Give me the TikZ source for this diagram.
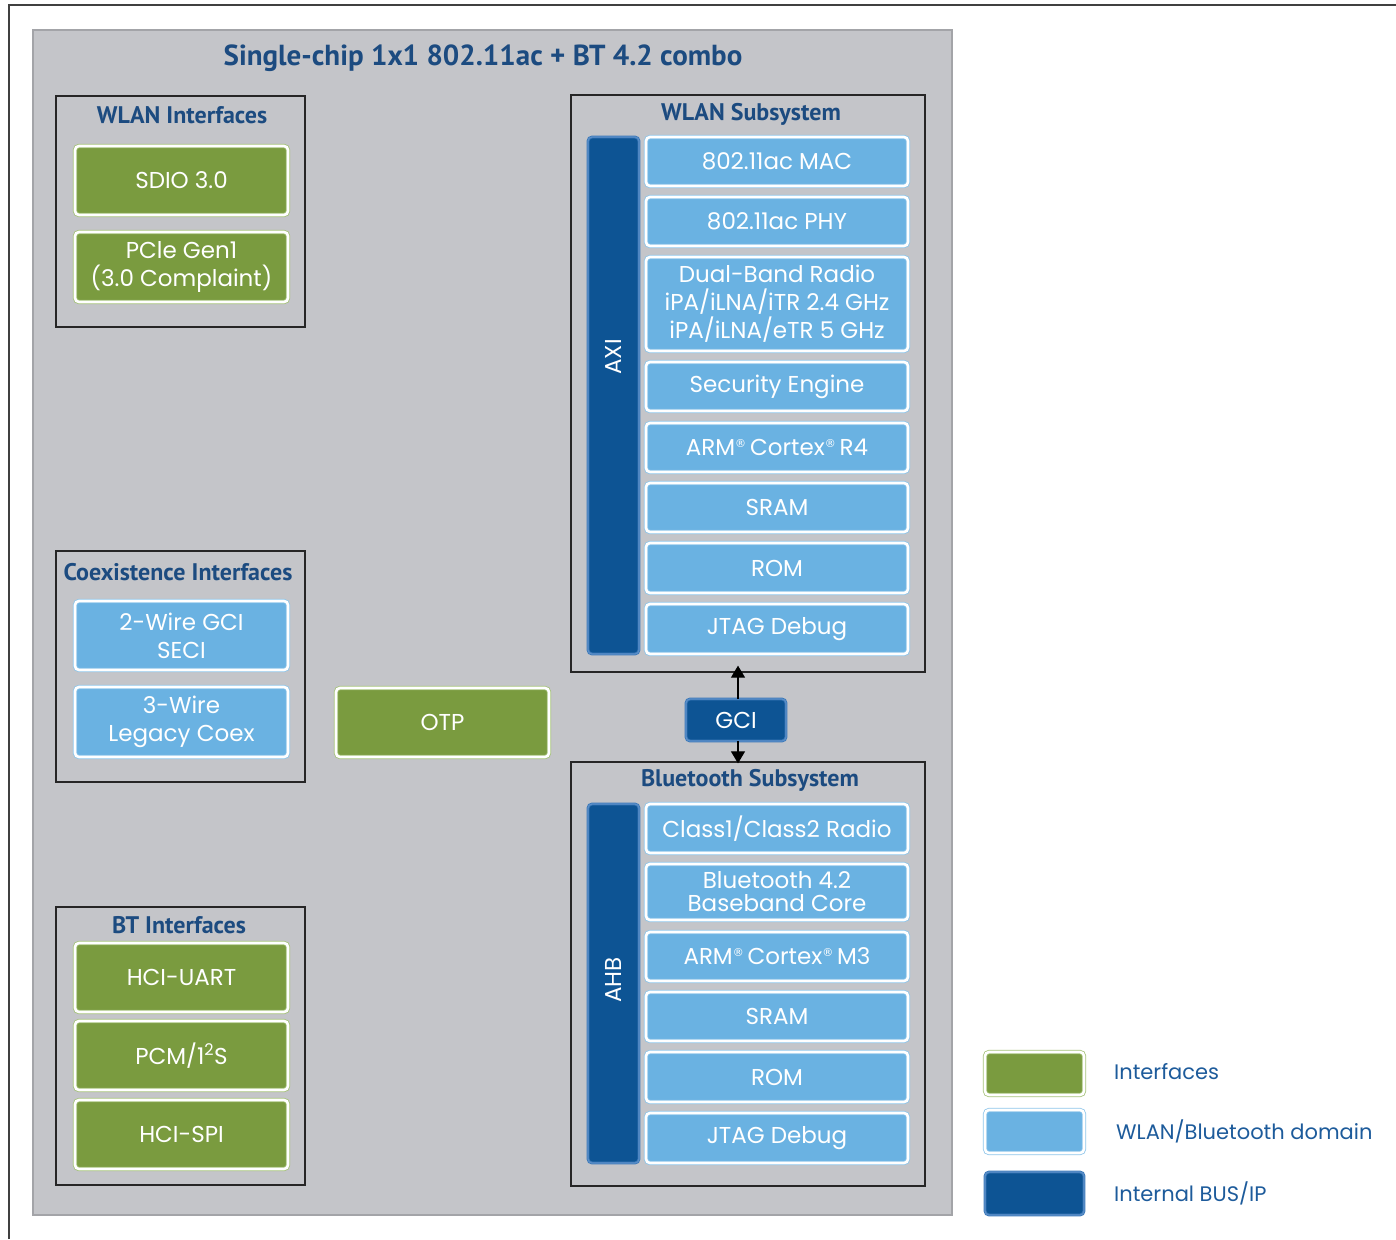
\documentclass[tikz,border=0pt]{standalone}
\usepackage{fontspec}
\setmainfont{Poppins}
\newfontfamily\hdrfont{PT Sans}
\newfontfamily\symfont{DejaVu Sans}
\usetikzlibrary{arrows.meta}
\definecolor{graybg}{HTML}{C4C5C9}
\definecolor{grayedge}{HTML}{A3A4A8}
\definecolor{grn}{HTML}{7A9B3F}
\definecolor{grnE}{HTML}{A5C279}
\definecolor{lb}{HTML}{6AB2E2}
\definecolor{lbE}{HTML}{8EC5EA}
\definecolor{db}{HTML}{0D5494}
\definecolor{dbE}{HTML}{3A78B8}
\definecolor{dbI}{HTML}{5B8FC8}
\definecolor{hdrc}{HTML}{1C4B80}
\definecolor{legc}{HTML}{1D5B9B}
\newcommand{\blk}[7]{\node[#2, minimum width={(#5-#3)*1pt}, minimum height={(#6-#4)*1pt}] (#1) at ({(#3+#5)/2},{(#4+#6)/2}) {#7};}
\newcommand{\regmark}{\raisebox{0.36em}{\symfont\fontsize{11}{11}\selectfont ®}}
\tikzset{
  box/.style={rounded corners=4pt, inner sep=0pt, align=center, text=white,
    font=\fontsize{23}{28}\selectfont, line width=0.8pt, double distance=2.6pt},
  ifbox/.style={box, fill=grn, draw=grnE, double=white},
  dmbox/.style={box, fill=lb, draw=lbE, double=white},
  busbox/.style={box, fill=db, draw=dbE, double=dbI, double distance=1.2pt},
  panel/.style={draw=black!85, line width=1.3pt, inner sep=0pt},
  hdr/.style={text=hdrc, font=\hdrfont\bfseries\fontsize{24}{28}\selectfont, inner sep=0pt},
  legtxt/.style={text=legc, font=\fontsize{21}{26}\selectfont, anchor=west, inner sep=0pt},
  arr/.style={-{Triangle[width=14pt,length=12pt]}, line width=1.2pt, black},
  bustxt/.style={text=white, rotate=90, font=\fontsize{23}{26}\selectfont, inner sep=0pt}
}
\begin{document}
\begin{tikzpicture}[x=1pt,y=-1pt]
\useasboundingbox (0,0) rectangle (1396,1239);
\draw[line width=1.5pt, black!75] (9,1239) -- (9,5) -- (1396,5);
% chip background
\blk{chip}{draw=grayedge, fill=graybg, line width=1.5pt, inner sep=0pt}{33}{30}{952}{1215}{}
\node[hdr, font=\hdrfont\bfseries\fontsize{29}{32}\selectfont] (ttl) at (483,58) {Single-chip 1x1 802.11ac + BT 4.2 combo};
% WLAN interfaces
\blk{wif}{panel}{56}{96}{305}{327}{}
\node[hdr] (wifh) at (182,115) {WLAN Interfaces};
\blk{sdio}{ifbox}{75}{146}{288}{215}{SDIO 3.0}
\blk{pcie}{ifbox}{75}{232}{288}{302}{PCle Gen1\\(3.0 Complaint)}
% Coex
\blk{cif}{panel}{56}{551}{305}{782}{}
\node[hdr] (cifh) at (178,572) {Coexistence Interfaces};
\blk{gciw}{dmbox}{75}{601}{288}{670}{2-Wire GCI\\SECI}
\blk{wire3}{dmbox}{75}{687}{288}{757}{3-Wire\\Legacy Coex}
\blk{otp}{ifbox}{336}{688}{549}{757}{OTP}
% BT interfaces
\blk{bif}{panel}{56}{907}{305}{1185}{}
\node[hdr] (bifh) at (179,925) {BT Interfaces};
\blk{uart}{ifbox}{75}{943}{288}{1012}{HCI-UART}
\blk{pcm}{ifbox}{75}{1021}{288}{1090}{PCM/1\textsuperscript{2}S}
\blk{spi}{ifbox}{75}{1100}{288}{1169}{HCI-SPI}
% WLAN subsystem
\blk{wlan}{panel}{571}{95}{925}{672}{}
\node[hdr] (wlanh) at (751,114) {WLAN Subsystem};
\blk{axi}{busbox}{588}{137}{639}{654}{}
\node[bustxt] (axit) at (613,357) {AXI};
\blk{mac}{dmbox}{646}{137}{908}{186}{802.11ac MAC}
\blk{phy}{dmbox}{646}{197}{908}{246}{802.11ac PHY}
\blk{radio}{dmbox}{646}{257}{908}{351}{Dual-Band Radio\\iPA/iLNA/iTR 2.4 GHz\\iPA/iLNA/eTR 5 GHz}
\blk{sec}{dmbox}{646}{362}{908}{411}{Security Engine}
\blk{r4}{dmbox}{646}{423}{908}{472}{ARM\regmark\,Cortex\regmark\,R4}
\blk{wsram}{dmbox}{646}{483}{908}{532}{SRAM}
\blk{wrom}{dmbox}{646}{543}{908}{593}{ROM}
\blk{wjtag}{dmbox}{646}{604}{908}{654}{JTAG Debug}
% GCI
\blk{gci}{busbox}{686}{699}{786}{741}{GCI}
% BT subsystem
\blk{bt}{panel}{571}{762}{925}{1186}{}
\node[hdr] (bth) at (750,780) {Bluetooth Subsystem};
\blk{ahb}{busbox}{588}{804}{639}{1163}{}
\node[bustxt] (ahbt) at (613,980) {AHB};
\blk{cls}{dmbox}{646}{804}{908}{853}{Class1/Class2 Radio}
\blk{bb}{dmbox}{646}{864}{908}{920}{Bluetooth 4.2\\[-5pt]Baseband Core}
\blk{m3}{dmbox}{646}{932}{908}{981}{ARM\regmark\,Cortex\regmark\,M3}
\blk{bsram}{dmbox}{646}{992}{908}{1041}{SRAM}
\blk{brom}{dmbox}{646}{1052}{908}{1102}{ROM}
\blk{bjtag}{dmbox}{646}{1113}{908}{1163}{JTAG Debug}
% arrows
\draw[arr] ([xshift=2pt]gci.north) -- ([xshift=2pt,yshift=7pt]gci.north |- wlan.south);
\draw[arr] ([xshift=2pt]gci.south) -- ([xshift=2pt,yshift=-2pt]gci.south |- bt.north);
% legend
\blk{lg1}{ifbox}{985}{1052}{1084}{1095}{}
\blk{lg2}{dmbox}{985}{1110}{1084}{1153}{}
\blk{lg3}{busbox}{985}{1172}{1084}{1215}{}
\node[legtxt] (lt1) at (1114,1072) {Interfaces};
\node[legtxt] (lt2) at (1116,1131) {WLAN/Bluetooth domain};
\node[legtxt] (lt3) at (1114,1193) {Internal BUS/IP};
\end{tikzpicture}
\end{document}
